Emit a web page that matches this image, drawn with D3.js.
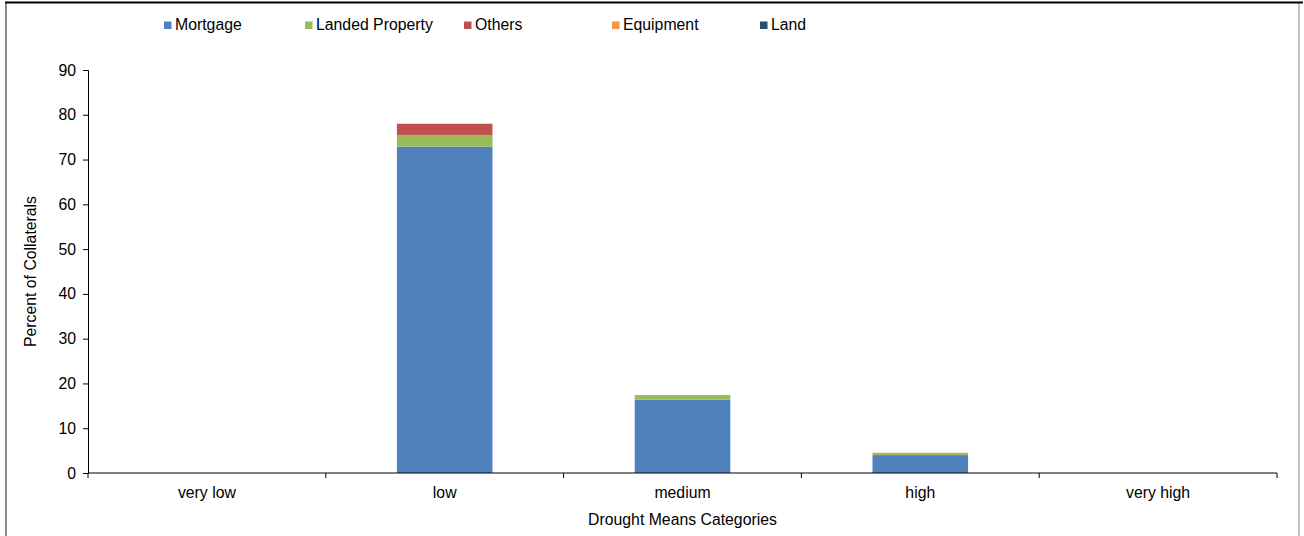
<!DOCTYPE html>
<html>
<head>
<meta charset="utf-8">
<script src="https://cdn.jsdelivr.net/npm/d3@7"></script>
<style>
  html, body { margin: 0; padding: 0; background: #fff; }
  svg { display: block; font-family: "Liberation Sans", Arial, sans-serif; }
</style>
</head>
<body>
<svg id="chart" width="1304" height="536"></svg>
<script>
// Drought means categories and collateral shares (percent)
const categories = ["very low", "low", "medium", "high", "very high"];
const seriesNames = ["Mortgage", "Landed Property", "Others", "Equipment", "Land"];
const mortgage       = [0, 72.9, 16.4, 4.0, 0];
const landedProperty = [0, 2.6, 0.9, 0.4, 0];
const others         = [0, 2.5, 0.1, 0.1, 0];
const equipment      = [0, 0, 0, 0, 0];
const land           = [0, 0, 0, 0, 0];
const yTicks = [0, 10, 20, 30, 40, 50, 60, 70, 80, 90];
const colors = ["#4F81BD", "#9BBB59", "#C0504D", "#F79646", "#2C4D75"];

const seriesValues = [mortgage, landedProperty, others, equipment, land];
const rows = categories.map((c, i) => {
  const r = { category: c };
  seriesNames.forEach((s, k) => { r[s] = seriesValues[k][i]; });
  return r;
});

const FS = 15.8;
const svg = d3.select("#chart");
const plot = { left: 88, right: 1277, top: 70, bottom: 473 };

// chart frame
svg.append("line").attr("x1", 6).attr("x2", 6).attr("y1", 3).attr("y2", 536)
  .attr("stroke", "#8c8c8c").attr("stroke-width", 2);
svg.append("line").attr("x1", 1299).attr("x2", 1299).attr("y1", 3).attr("y2", 536)
  .attr("stroke", "#b0b0b0").attr("stroke-width", 1.5);
svg.append("line").attr("x1", 5).attr("x2", 1303).attr("y1", 2.5).attr("y2", 2.5)
  .attr("stroke", "#000").attr("stroke-width", 2);

const x = d3.scaleBand().domain(categories).range([plot.left, plot.right]).padding(0);
const y = d3.scaleLinear().domain([0, 90]).range([plot.bottom, plot.top]);

const stack = d3.stack().keys(seriesNames);
const stacked = stack(rows);
const barW = x.bandwidth() * 0.402;

svg.append("g").selectAll("g").data(stacked).join("g")
  .attr("fill", (d, i) => colors[i])
  .selectAll("rect").data(d => d).join("rect")
  .attr("x", d => x(d.data.category) + (x.bandwidth() - barW) / 2)
  .attr("width", barW)
  .attr("y", d => y(d[1]))
  .attr("height", d => Math.max(0, y(d[0]) - y(d[1])));

// Y axis
const yAxis = d3.axisLeft(y).tickValues(yTicks).tickSize(5).tickPadding(7);
const gy = svg.append("g").attr("transform", `translate(${plot.left},0)`).call(yAxis);
gy.select(".domain").attr("stroke", "#000");
gy.selectAll(".tick line").attr("stroke", "#000");
gy.selectAll("text").attr("font-size", FS).attr("fill", "#000")
  .attr("font-family", "'Liberation Sans', Arial, sans-serif");

// X axis with ticks at category boundaries
const gx = svg.append("g").attr("transform", `translate(0,${plot.bottom})`);
gx.append("line").attr("x1", plot.left).attr("x2", plot.right)
  .attr("stroke", "#000").attr("stroke-width", 1);
const bounds = categories.map(c => x(c)).concat([plot.right]);
gx.selectAll("line.tk").data(bounds).join("line").attr("class", "tk")
  .attr("x1", d => d).attr("x2", d => d).attr("y1", 0).attr("y2", 5)
  .attr("stroke", "#000");
gx.selectAll("text").data(categories).join("text")
  .attr("x", d => x(d) + x.bandwidth() / 2).attr("y", 25)
  .attr("text-anchor", "middle").attr("font-size", FS).attr("fill", "#000")
  .text(d => d);

// Axis titles
svg.append("text").attr("x", (plot.left + plot.right) / 2).attr("y", 525)
  .attr("text-anchor", "middle").attr("font-size", FS).attr("fill", "#000")
  .text("Drought Means Categories");
svg.append("text")
  .attr("transform", `translate(36,${(plot.top + plot.bottom) / 2}) rotate(-90)`)
  .attr("text-anchor", "middle").attr("font-size", FS).attr("fill", "#000")
  .text("Percent of Collaterals");

// Legend
const legendX = [164, 305, 464, 612, 760];
const lg = svg.append("g").selectAll("g").data(seriesNames).join("g")
  .attr("transform", (d, i) => `translate(${legendX[i]},21)`);
lg.append("rect").attr("width", 7.5).attr("height", 7.5).attr("y", 0.5)
  .attr("fill", (d, i) => colors[i]);
lg.append("text").attr("x", 11).attr("y", 9).attr("font-size", FS).attr("fill", "#000")
  .text(d => d);
</script>
</body>
</html>
